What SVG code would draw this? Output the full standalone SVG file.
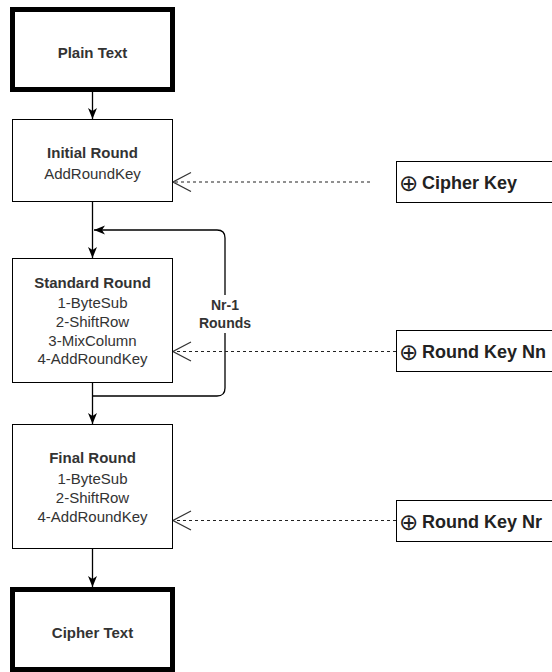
<svg xmlns="http://www.w3.org/2000/svg" width="552" height="672" viewBox="0 0 552 672">
<style>
.box{fill:#fff;stroke:#000;stroke-width:1}
.thick{fill:#fff;stroke:#000;stroke-width:5}
.t{font-family:"Liberation Sans",Arial,sans-serif;font-size:15px;fill:#333;text-anchor:middle}
.b{font-weight:bold}
.k{font-family:"Liberation Sans",Arial,sans-serif;font-size:18px;font-weight:bold;fill:#222}
.o{font-family:"DejaVu Sans",sans-serif;font-size:23px;font-weight:normal;fill:#222}
.lbl{font-family:"Liberation Sans",Arial,sans-serif;font-size:14px;font-weight:bold;fill:#333;text-anchor:middle}
.ln{fill:none;stroke:#000;stroke-width:1.3}
.dash{fill:none;stroke:#222;stroke-width:1.1;stroke-dasharray:3 3}
</style>
<defs>
<marker id="fa" markerUnits="userSpaceOnUse" markerWidth="12" markerHeight="10" refX="11" refY="4.5" orient="auto">
<path d="M0,0 L11,4.5 L0,9 L3,4.5 Z" fill="#000" stroke="none"/>
</marker>
<marker id="oa" markerUnits="userSpaceOnUse" markerWidth="20" markerHeight="21" refX="19" refY="10" orient="auto">
<path d="M1,0.5 L19,10 L1,19.5" fill="none" stroke="#333" stroke-width="1.2" stroke-dasharray="none"/>
</marker>
</defs>
<g id="connectors">
<path class="ln" d="M92.5,92 V119" marker-end="url(#fa)"/>
<path class="ln" d="M92.5,201.5 V258" marker-end="url(#fa)"/>
<path class="ln" d="M92.5,396 H217 Q225,396 225,388 V238 Q225,230 217,230 H94" marker-end="url(#fa)"/>
<path class="ln" d="M92.5,382.5 V424" marker-end="url(#fa)"/>
<path class="ln" d="M92.5,548.5 V587" marker-end="url(#fa)"/>
<path class="dash" d="M370,182 H173" marker-end="url(#oa)"/>
<path class="dash" d="M396,351.5 H173" marker-end="url(#oa)"/>
<path class="dash" d="M396,520.5 H173" marker-end="url(#oa)"/>
<rect x="200" y="295" width="50" height="38" fill="#fff"/>
<text class="lbl" x="225" y="310">Nr-1</text>
<text class="lbl" x="225" y="328">Rounds</text>
</g>
<g id="plain-text">
<rect class="thick" x="12.5" y="9.5" width="160" height="80"/>
<text class="t b" x="92.5" y="57.5">Plain Text</text>
</g>
<g id="initial-round">
<rect class="box" x="12.5" y="119.5" width="160" height="82"/>
<text class="t b" x="92.5" y="157.5">Initial Round</text>
<text class="t" x="92.5" y="178.5">AddRoundKey</text>
</g>
<g id="standard-round">
<rect class="box" x="12.5" y="258.5" width="160" height="124"/>
<text class="t b" x="92.5" y="287.5">Standard Round</text>
<text class="t" x="92.5" y="307.5">1-ByteSub</text>
<text class="t" x="92.5" y="326.5">2-ShiftRow</text>
<text class="t" x="92.5" y="345.5">3-MixColumn</text>
<text class="t" x="92.5" y="363.5">4-AddRoundKey</text>
</g>
<g id="final-round">
<rect class="box" x="12.5" y="424.5" width="160" height="124"/>
<text class="t b" x="92.5" y="462.5">Final Round</text>
<text class="t" x="92.5" y="483.5">1-ByteSub</text>
<text class="t" x="92.5" y="502.5">2-ShiftRow</text>
<text class="t" x="92.5" y="522">4-AddRoundKey</text>
</g>
<g id="cipher-text">
<rect class="thick" x="12.5" y="589.5" width="160" height="80"/>
<text class="t b" x="92.5" y="637.5">Cipher Text</text>
</g>
<g id="cipher-key">
<rect class="box" x="396.5" y="161.5" width="170" height="41"/>
<text x="399" y="191"><tspan class="o">⊕</tspan><tspan class="k" x="422" y="189">Cipher Key</tspan></text>
</g>
<g id="round-key-nn">
<rect class="box" x="396.5" y="330.5" width="170" height="41"/>
<text x="399" y="360"><tspan class="o">⊕</tspan><tspan class="k" x="422" y="358">Round Key Nn</tspan></text>
</g>
<g id="round-key-nr">
<rect class="box" x="396.5" y="500.5" width="170" height="41"/>
<text x="399" y="530"><tspan class="o">⊕</tspan><tspan class="k" x="422" y="528">Round Key Nr</tspan></text>
</g>
</svg>
